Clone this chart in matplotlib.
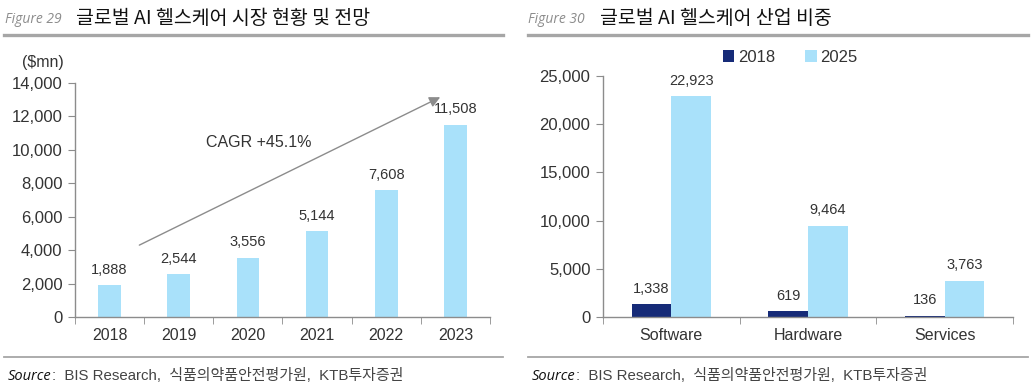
import matplotlib
matplotlib.use("Agg")
import matplotlib.pyplot as plt
from matplotlib.lines import Line2D
import numpy as np

plt.rcParams['font.family'] = ['Liberation Sans', 'Noto Sans CJK KR', 'DejaVu Sans']

# data
years = ["2018", "2019", "2020", "2021", "2022", "2023"]
market = [1888, 2544, 3556, 5144, 7608, 11508]

segments = ["Software", "Hardware", "Services"]
seg_2018 = [1338, 619, 136]
seg_2025 = [22923, 9464, 3763]

light_blue = "#A9E1FA"
navy = "#162B78"
text_col = "#333333"
spine_col = "#8C8C8C"
rule_col = "#A6A6A6"

W, H = 1036, 389
fig = plt.figure(figsize=(W / 100, H / 100), dpi=100)


def px(x, y):
    return x / W, 1 - y / H


def style_axes(ax, n):
    for s in ["top", "right"]:
        ax.spines[s].set_visible(False)
    for s in ["left", "bottom"]:
        ax.spines[s].set_color(spine_col)
        ax.spines[s].set_linewidth(1.0)
    ax.set_xlim(-0.5, n - 0.5)
    ax.set_xticks(np.arange(n))
    ax.set_xticks(np.arange(-0.5, n), minor=True)
    ax.tick_params(axis="x", which="major", length=0, pad=8, labelsize=11.5, labelcolor=text_col)
    ax.tick_params(axis="x", which="minor", length=5, color=spine_col, direction="out")
    ax.tick_params(axis="y", length=5, color=spine_col, direction="out", labelsize=12,
                   labelcolor=text_col, pad=4)
    ax.yaxis.set_major_formatter(matplotlib.ticker.StrMethodFormatter("{x:,.0f}"))


# ---- left chart ----
ax1 = fig.add_axes([75 / W, 1 - 317 / H, 415 / W, 234 / H])
x1 = np.arange(len(years))
bars = ax1.bar(x1, market, width=0.33, color=light_blue)
ax1.set_ylim(0, 14000)
ax1.set_yticks(np.arange(0, 14001, 2000))
ax1.set_xticks(x1)
ax1.set_xticklabels(years)
style_axes(ax1, len(years))
for xi, v in zip(x1, market):
    ax1.annotate(f"{v:,}", (xi, v), xytext=(0, 6), textcoords="offset points",
                 ha="center", va="bottom", fontsize=10.5, color=text_col)

ax1.annotate("", xy=(4.78, 13150), xytext=(0.43, 4300),
             arrowprops=dict(arrowstyle="-|>", color="#8C8C8C", lw=1.0,
                             mutation_scale=16, shrinkA=0, shrinkB=0))
ax1.text(1.4, 10470, "CAGR +45.1%", fontsize=11.5, color=text_col, va="center", ha="left")
fig.text(*px(22, 62), "($mn)", fontsize=11.5, color=text_col, va="center", ha="left")

# ---- right chart ----
ax2 = fig.add_axes([603 / W, 1 - 317 / H, 410 / W, 241 / H])
x2 = np.arange(len(segments))
bw = 0.29
ax2.bar(x2 - bw / 2, seg_2018, width=bw, color=navy, label="2018")
ax2.bar(x2 + bw / 2, seg_2025, width=bw, color=light_blue, label="2025")
ax2.set_ylim(0, 25000)
ax2.set_yticks(np.arange(0, 25001, 5000))
ax2.set_xticks(x2)
ax2.set_xticklabels(segments)
style_axes(ax2, len(segments))
for xi, v in zip(x2, seg_2018):
    ax2.annotate(f"{v:,}", (xi - bw / 2, v), xytext=(0, 6), textcoords="offset points",
                 ha="center", va="bottom", fontsize=10.5, color=text_col)
for xi, v in zip(x2, seg_2025):
    ax2.annotate(f"{v:,}", (xi + bw / 2, v), xytext=(0, 6), textcoords="offset points",
                 ha="center", va="bottom", fontsize=10.5, color=text_col)
ax2.legend(loc="center", bbox_to_anchor=px(790, 57), bbox_transform=fig.transFigure,
           ncol=2, frameon=False, fontsize=12, handlelength=0.7, handleheight=0.7,
           handletextpad=0.2, columnspacing=1.8, labelcolor=text_col)

# ---- titles, rules, sources ----
titles = [(5, 76, "Figure 29", "글로벌 AI 헬스케어 시장 현황 및 전망", 4, 503),
          (528, 600, "Figure 30", "글로벌 AI 헬스케어 산업 비중", 528, 1028)]
fig.canvas.draw()
renderer = fig.canvas.get_renderer()
for fx, tx, fig_lbl, title, r0, r1 in titles:
    fig.text(*px(fx, 23), fig_lbl, fontsize=10, style="italic", color="#8C8C8C",
             family=["Open Sans", "DejaVu Sans"], va="baseline", ha="left")
    fig.text(*px(tx, 18), title, fontsize=14, color="#111111",
             family=["Noto Sans CJK KR", "DejaVu Sans"], va="center", ha="left")
    fig.add_artist(Line2D([r0 / W, r1 / W], [1 - 34.5 / H] * 2, color=rule_col, lw=2.4))
    fig.add_artist(Line2D([r0 / W, r1 / W], [1 - 357 / H] * 2, color=rule_col, lw=1.3))
    s = fig.text(*px(r0 + 4, 380), "Source", fontsize=10.5, style="italic", color="#111111",
                 family=["Open Sans", "DejaVu Sans"], va="baseline", ha="left")
    bb = s.get_window_extent(renderer)
    fig.text(bb.x1 / W, 1 - 380 / H, ":  BIS Research,  식품의약품안전평가원,  KTB투자증권",
             fontsize=10.8, color="#444444", va="baseline", ha="left")

fig.savefig("out.png", dpi=100)
